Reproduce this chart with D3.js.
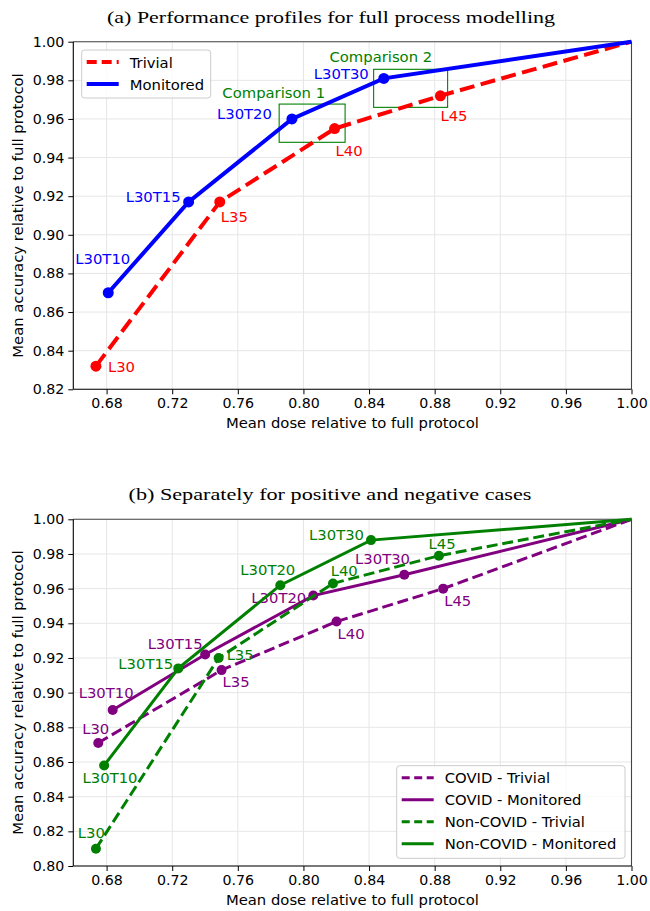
<!DOCTYPE html>
<html><head><meta charset="utf-8">
<script src="https://cdn.jsdelivr.net/npm/d3@7"></script>
<style>
body{margin:0;background:#fff;}
</style></head>
<body><svg id="c" width="650" height="911" font-family="DejaVu Sans"></svg>
<script>
// ---------- data ----------
const xTicks = [0.68,0.72,0.76,0.80,0.84,0.88,0.92,0.96,1.00];
const yTicksA = [0.82,0.84,0.86,0.88,0.90,0.92,0.94,0.96,0.98,1.00];
const yTicksB = [0.80,0.82,0.84,0.86,0.88,0.90,0.92,0.94,0.96,0.98,1.00];

// (a) full process modelling
const aTrivialLabels = ["L30","L35","L40","L45",""];
const aTrivialDose   = [0.6735,0.749,0.819,0.8835,1.0];
const aTrivialAcc    = [0.832,0.917,0.955,0.972,1.0];
const aMonLabels = ["L30T10","L30T15","L30T20","L30T30",""];
const aMonDose   = [0.681,0.730,0.793,0.849,1.0];
const aMonAcc    = [0.870,0.917,0.960,0.981,1.0];
const compNames = ["Comparison 1","Comparison 2"];
const compX0 = [0.7852,0.8428], compX1 = [0.8254,0.8879];
const compY0 = [0.9479,0.9660], compY1 = [0.9677,0.9857];

// (b) positive / negative cases
const covTrivLabels = ["L30","L35","L40","L45",""];
const covTrivDose   = [0.6749,0.7501,0.8202,0.8852,1.0];
const covTrivAcc    = [0.871,0.913,0.941,0.960,1.0];
const covMonLabels = ["L30T10","L30T15","L30T20","L30T30",""];
const covMonDose   = [0.6837,0.7401,0.806,0.8615,1.0];
const covMonAcc    = [0.890,0.922,0.956,0.968,1.0];
const ncTrivLabels = ["L30","L35","L40","L45",""];
const ncTrivDose   = [0.6735,0.7483,0.818,0.8826,1.0];
const ncTrivAcc    = [0.810,0.920,0.963,0.979,1.0];
const ncMonLabels = ["L30T10","L30T15","L30T20","L30T30",""];
const ncMonDose   = [0.6785,0.7237,0.7859,0.8412,1.0];
const ncMonAcc    = [0.858,0.914,0.962,0.988,1.0];

// ---------- styling / layout ----------
const svg = d3.select("#c");
const L = 73.3, R = 631.5;
const FS = 14.8, TFS = 14.2;
const x = d3.scaleLinear().domain([0.6597,1.0]).range([L,R]);

function zip(d,a,l){ return d.map((v,i)=>({x:v,y:a[i],label:l[i]})); }

function panel(top,bottom,yDomain,yTicks,title){
  const y = d3.scaleLinear().domain(yDomain).range([bottom,top]);
  const g = svg.append("g");
  g.selectAll(".gx").data(xTicks).enter().append("line")
    .attr("x1",d=>x(d)).attr("x2",d=>x(d)).attr("y1",top).attr("y2",bottom)
    .attr("stroke","#e6e6e6").attr("stroke-width",1);
  g.selectAll(".gy").data(yTicks).enter().append("line")
    .attr("y1",d=>y(d)).attr("y2",d=>y(d)).attr("x1",L).attr("x2",R)
    .attr("stroke","#e6e6e6").attr("stroke-width",1);
  const xa = g.append("g").attr("transform",`translate(0,${bottom})`)
    .call(d3.axisBottom(x).tickValues(xTicks).tickFormat(d3.format(".2f")).tickSize(5).tickPadding(4));
  const ya = g.append("g").attr("transform",`translate(${L},0)`)
    .call(d3.axisLeft(y).tickValues(yTicks).tickFormat(d3.format(".2f")).tickSize(5).tickPadding(4));
  [xa,ya].forEach(a=>{
    a.select(".domain").remove();
    a.attr("font-family","DejaVu Sans").attr("font-size",TFS);
    a.selectAll("text").attr("fill","#000");
    a.selectAll("line").attr("stroke","#000");
  });
  g.append("line").attr("x1",L).attr("x2",R).attr("y1",top).attr("y2",top).attr("stroke","#444").attr("stroke-width",1.1);
  g.append("line").attr("x1",R).attr("x2",R).attr("y1",top).attr("y2",bottom).attr("stroke","#444").attr("stroke-width",1.1);
  g.append("line").attr("x1",L).attr("x2",L).attr("y1",top).attr("y2",bottom).attr("stroke","#000").attr("stroke-width",1.1);
  g.append("line").attr("x1",L).attr("x2",R).attr("y1",bottom).attr("y2",bottom).attr("stroke","#000").attr("stroke-width",1.1);
  g.append("text").attr("x",(L+R)/2).attr("y",bottom+39).attr("text-anchor","middle")
    .attr("font-size",FS).text("Mean dose relative to full protocol");
  g.append("text").attr("transform",`translate(23,${(top+bottom)/2}) rotate(-90)`).attr("text-anchor","middle")
    .attr("font-size",FS).text("Mean accuracy relative to full protocol");
  g.append("text").attr("x",title[2]).attr("y",top-19).attr("text-anchor","middle")
    .attr("font-family","Liberation Serif").attr("font-size",17.5)
    .attr("textLength",title[1]).attr("lengthAdjust","spacingAndGlyphs").text(title[0]);
  return {g,y};
}

function series(p,pts,color,dash,lw,r,offs){
  const line = d3.line().x(d=>x(d.x)).y(d=>p.y(d.y));
  p.g.append("path").datum(pts).attr("d",line).attr("fill","none")
    .attr("stroke",color).attr("stroke-width",lw).attr("stroke-dasharray",dash?dash:null);
  const lab = pts.filter(d=>d.label);
  p.g.selectAll(null).data(lab).enter().append("circle")
    .attr("cx",d=>x(d.x)).attr("cy",d=>p.y(d.y)).attr("r",r).attr("fill",color);
  p.g.selectAll(null).data(lab).enter().append("text")
    .attr("x",(d,i)=>x(d.x)+offs[i][0]).attr("y",(d,i)=>p.y(d.y)+offs[i][1])
    .attr("text-anchor",(d,i)=>offs[i][2]).attr("dominant-baseline","central")
    .attr("font-size",FS).attr("fill",color).text(d=>d.label);
}

function legend(p,x0,y0,w,h,items,lw,dash){
  const g = p.g.append("g");
  g.append("rect").attr("x",x0).attr("y",y0).attr("width",w).attr("height",h).attr("rx",3)
    .attr("fill","#fff").attr("fill-opacity",0.8).attr("stroke","#cccccc").attr("stroke-width",1);
  items.forEach((it,i)=>{
    const yy = y0+12+i*22;
    g.append("line").attr("x1",x0+5).attr("x2",x0+37).attr("y1",yy).attr("y2",yy)
      .attr("stroke",it[1]).attr("stroke-width",lw).attr("stroke-dasharray",it[2]?dash:null);
    g.append("text").attr("x",x0+48).attr("y",yy).attr("dominant-baseline","central")
      .attr("font-size",FS).text(it[0]);
  });
}

// ----- panel (a) -----
const pa = panel(41.7,389.3,[0.82,1.0],yTicksA,["(a) Performance profiles for full process modelling",448,331]);
compNames.forEach((n,i)=>{
  pa.g.append("rect").attr("x",x(compX0[i])).attr("y",pa.y(compY1[i]))
    .attr("width",x(compX1[i])-x(compX0[i])).attr("height",pa.y(compY0[i])-pa.y(compY1[i]))
    .attr("fill","none").attr("stroke","#008000").attr("stroke-width",1.1);
});
series(pa,zip(aTrivialDose,aTrivialAcc,aTrivialLabels),"#ff0000","15,6.5",4,5.5,
  [[12,0,"start"],[1,15,"start"],[1,22,"start"],[0,20,"start"]]);
series(pa,zip(aMonDose,aMonAcc,aMonLabels),"#0000ff",null,4,5.5,
  [[22,-34,"end"],[-8,-5,"end"],[-20,-5,"end"],[-15,-5,"end"]]);
pa.g.append("text").attr("x",273.7).attr("y",92.3).attr("text-anchor","middle").attr("dominant-baseline","central")
  .attr("font-size",FS).attr("fill","#008000").text(compNames[0]);
pa.g.append("text").attr("x",380.8).attr("y",56).attr("text-anchor","middle").attr("dominant-baseline","central")
  .attr("font-size",FS).attr("fill","#008000").text(compNames[1]);
legend(pa,81.7,50,129,48,[["Trivial","#ff0000",true],["Monitored","#0000ff",false]],4,"10,5");

// ----- panel (b) -----
const pb = panel(519.3,866,[0.80,1.0],yTicksB,["(b) Separately for positive and negative cases",403,330]);
series(pb,zip(covTrivDose,covTrivAcc,covTrivLabels),"#800080","11,4.8",3,5,
  [[11,-14,"end"],[1,11.5,"start"],[1,11.6,"start"],[1,11.7,"start"]]);
series(pb,zip(covMonDose,covMonAcc,covMonLabels),"#800080",null,3,5,
  [[21,-17.3,"end"],[-2.6,-11,"end"],[-7,1.6,"end"],[5.7,-16,"end"]]);
series(pb,zip(ncTrivDose,ncTrivAcc,ncTrivLabels),"#008000","11,4.8",3,5,
  [[9,-16.3,"end"],[8,-3.3,"start"],[-2.3,-12.6,"start"],[16.7,-12,"end"]]);
series(pb,zip(ncMonDose,ncMonAcc,ncMonLabels),"#008000",null,3,5,
  [[33.4,12,"end"],[-5,-5,"end"],[15,-15.7,"end"],[-7,-5.4,"end"]]);
legend(pb,396.7,765.7,228.3,92.6,[["COVID - Trivial","#800080",true],["COVID - Monitored","#800080",false],
  ["Non-COVID - Trivial","#008000",true],["Non-COVID - Monitored","#008000",false]],3,"8,4.5");
</script></body></html>
